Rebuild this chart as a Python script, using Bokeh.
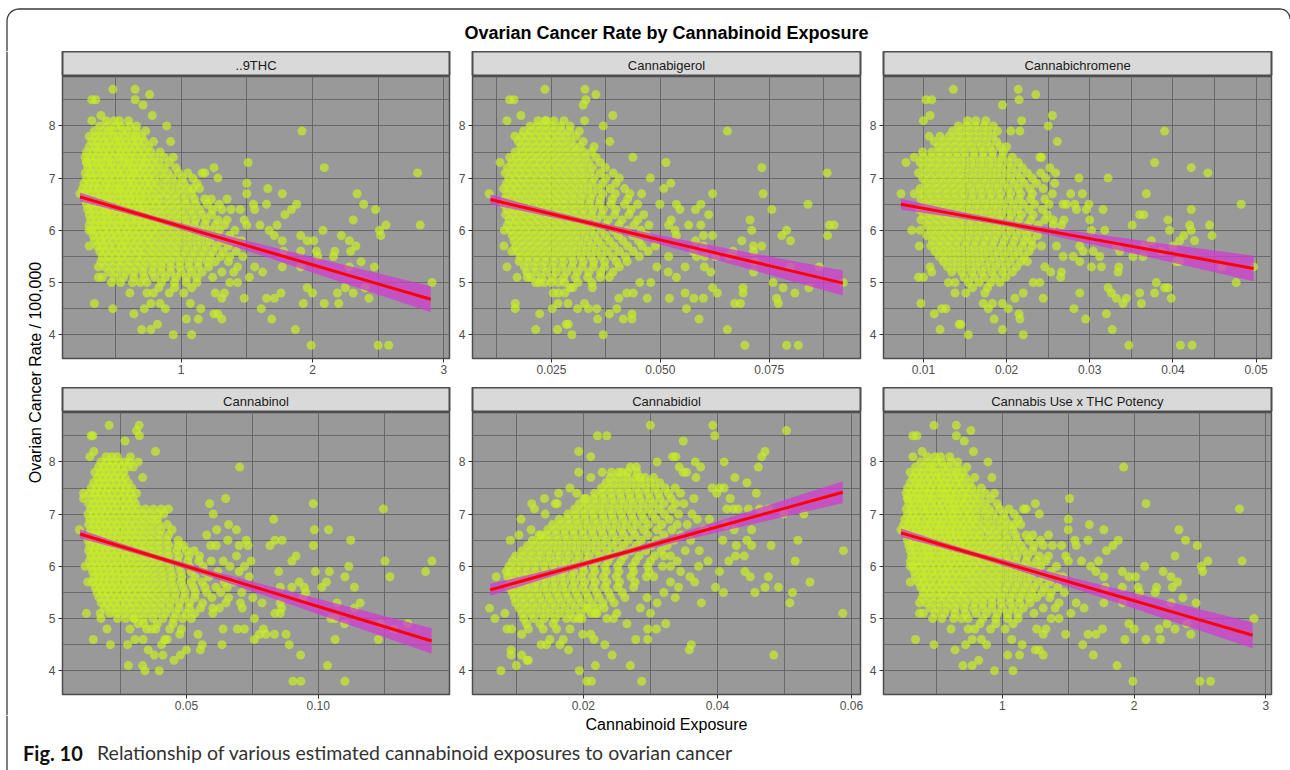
import numpy as np
from bokeh.plotting import figure
from bokeh.layouts import column, row
from bokeh.models import Range1d, FixedTicker, PrintfTickFormatter
from bokeh.core.properties import value
from bokeh.embed import file_html
from bokeh.resources import INLINE

# ------------------------------------------------------------------ data
chart_title = "Ovarian Cancer Rate by Cannabinoid Exposure"
y_title = "Ovarian Cancer Rate / 100,000"
x_title = "Cannabinoid Exposure"
caption_bold = "Fig. 10"
caption_text = "Relationship of various estimated cannabinoid exposures to ovarian cancer"

panel_titles = ["..9THC", "Cannabigerol", "Cannabichromene",
                "Cannabinol", "Cannabidiol", "Cannabis Use x THC Potency"]

rate_ticks = [4, 5, 6, 7, 8]
rate_minor = [4.5, 5.5, 6.5, 7.5, 8.5]

# THC exposure (also used by the Cannabis Use x THC Potency panel)
thc_points = [
    (0.48, 8.7), (0.65, 8.7), (0.65, 8.5), (0.76, 8.6), (0.71, 8.4), (0.32, 8.5), (0.35, 8.5),
    (0.32, 8.1), (0.39, 8.2), (0.78, 8.2), (0.89, 8.0), (0.92, 7.7), (1.92, 7.9), (1.51, 7.3),
    (2.09, 7.2), (2.80, 7.1), (1.25, 7.2), (0.94, 7.4), (1.16, 7.1), (1.18, 7.1), (1.28, 7.0),
    (1.50, 6.9), (1.66, 6.8), (1.77, 6.7), (1.50, 6.7), (2.34, 6.7), (2.39, 6.5), (2.48, 6.4),
    (1.88, 6.5), (1.84, 6.4), (1.79, 6.3), (1.65, 6.5), (1.55, 6.5), (1.56, 6.4), (1.45, 6.4),
    (1.38, 6.4), (1.35, 6.6), (1.29, 6.5), (1.23, 6.6), (1.09, 6.8), (2.31, 6.2), (2.51, 6.0),
    (2.56, 6.1), (2.52, 5.9), (2.82, 6.1), (2.08, 6.0), (2.01, 5.8), (1.96, 5.8), (1.91, 5.9),
    (2.22, 5.9), (2.28, 5.8), (2.33, 5.7), (2.29, 5.6), (2.17, 5.6), (2.16, 5.5), (2.03, 5.6),
    (2.04, 5.5), (1.91, 5.6), (1.77, 5.8), (1.71, 5.9), (1.78, 5.6), (1.67, 6.0), (1.60, 6.1),
    (1.73, 6.1), (1.50, 6.1), (2.37, 5.4), (2.47, 5.3), (2.28, 5.3), (2.91, 5.0), (2.40, 4.9),
    (2.25, 4.9), (2.31, 4.8), (2.43, 4.7), (2.19, 4.8), (1.96, 4.9), (2.00, 4.8), (1.93, 4.6),
    (2.09, 4.6), (2.20, 4.6), (1.76, 4.8), (1.71, 4.7), (1.65, 4.7), (1.61, 4.5), (1.69, 4.3),
    (1.87, 4.1), (1.99, 3.8), (2.50, 3.8), (2.58, 3.8), (1.77, 5.3), (1.91, 5.3), (1.62, 5.2),
    (1.52, 5.1), (1.56, 5.3), (1.48, 4.7), (1.43, 5.0), (1.37, 5.0), (1.40, 5.2), (1.31, 5.2),
    (1.24, 5.1), (1.26, 4.8), (1.33, 4.8), (1.31, 4.7), (1.25, 4.4), (1.28, 4.4), (1.31, 4.3),
    (1.15, 4.5), (1.07, 4.6), (1.13, 4.3), (1.04, 4.3), (1.08, 4.0), (0.94, 4.0), (0.82, 4.2),
    (0.77, 4.1), (0.70, 4.1), (0.64, 4.4), (0.72, 4.5), (0.77, 4.6), (0.84, 4.6), (0.88, 4.5),
    (0.48, 4.5), (0.34, 4.6), (0.61, 4.8), (0.74, 4.8), (0.79, 4.8), (0.91, 4.8), (1.02, 4.8),
    (0.69, 5.0), (0.47, 5.0), (0.37, 5.1), (0.40, 5.1), (0.37, 5.3), (0.30, 5.7), (0.30, 6.0),
    (0.23, 6.7), (0.28, 7.3), (1.36, 5.4), (1.42, 5.6), (1.47, 5.5), (1.46, 5.8), (1.41, 6.0),
    (1.48, 6.2), (1.35, 6.2), (1.43, 5.3),
]
thc_rows = [
    (8.1, [0.43, 0.49, 0.53, 0.60]),
    (8.0, [0.38, 0.44, 0.50, 0.54, 0.61, 0.66]),
    (7.9, [0.34, 0.40, 0.45, 0.48, 0.55, 0.59, 0.66, 0.73]),
    (7.8, [0.30, 0.35, 0.39, 0.44, 0.49, 0.52, 0.57, 0.62, 0.65, 0.70]),
    (7.7, [0.32, 0.36, 0.41, 0.45, 0.50, 0.53, 0.58, 0.63, 0.67, 0.72, 0.79]),
    (7.6, [0.30, 0.35, 0.38, 0.43, 0.47, 0.52, 0.56, 0.60, 0.65, 0.69, 0.75]),
    (7.5, [0.28, 0.33, 0.37, 0.41, 0.45, 0.50, 0.54, 0.58, 0.62, 0.67, 0.72, 0.77, 0.84]),
    (7.4, [0.27, 0.31, 0.35, 0.40, 0.44, 0.48, 0.53, 0.56, 0.61, 0.65, 0.70, 0.74, 0.80, 0.87]),
    (7.3, [0.28, 0.32, 0.36, 0.39, 0.44, 0.47, 0.52, 0.57, 0.60, 0.64, 0.69, 0.73, 0.78, 0.83, 0.91]),
    (7.2, [0.29, 0.33, 0.38, 0.41, 0.46, 0.50, 0.54, 0.59, 0.63, 0.67, 0.71, 0.76, 0.81, 0.87, 0.96]),
    (7.1, [0.27, 0.31, 0.35, 0.40, 0.43, 0.48, 0.52, 0.56, 0.61, 0.64, 0.68, 0.73, 0.78, 0.84, 0.90,
           0.98, 1.05]),
    (7.0, [0.28, 0.32, 0.36, 0.41, 0.45, 0.49, 0.54, 0.58, 0.62, 0.66, 0.71, 0.75, 0.80, 0.87, 0.93,
           1.01, 1.09]),
    (6.9, [0.26, 0.30, 0.34, 0.38, 0.43, 0.47, 0.51, 0.55, 0.60, 0.63, 0.68, 0.73, 0.77, 0.82, 0.89,
           0.96, 1.02, 1.12]),
    (6.8, [0.25, 0.29, 0.33, 0.37, 0.42, 0.45, 0.50, 0.53, 0.57, 0.62, 0.66, 0.70, 0.75, 0.80, 0.86,
           0.92, 0.99, 1.05, 1.14]),
    (6.7, [0.26, 0.30, 0.35, 0.39, 0.43, 0.48, 0.52, 0.56, 0.60, 0.64, 0.69, 0.73, 0.78, 0.84, 0.89,
           0.95, 1.01, 1.08]),
    (6.6, [0.27, 0.31, 0.35, 0.40, 0.44, 0.47, 0.52, 0.57, 0.61, 0.65, 0.69, 0.74, 0.79, 0.83, 0.90,
           0.96, 1.03, 1.10, 1.18]),
    (6.5, [0.28, 0.32, 0.37, 0.41, 0.45, 0.50, 0.54, 0.58, 0.62, 0.67, 0.71, 0.76, 0.81, 0.86, 0.92,
           0.98, 1.04, 1.11, 1.20]),
    (6.4, [0.29, 0.33, 0.38, 0.42, 0.46, 0.51, 0.55, 0.59, 0.64, 0.68, 0.72, 0.77, 0.83, 0.88, 0.94,
           1.00, 1.07, 1.14, 1.24, 1.31]),
    (6.3, [0.30, 0.34, 0.39, 0.43, 0.47, 0.52, 0.56, 0.60, 0.65, 0.69, 0.74, 0.79, 0.84, 0.90, 0.96,
           1.02, 1.09, 1.16, 1.23]),
    (6.2, [0.31, 0.35, 0.40, 0.44, 0.48, 0.53, 0.57, 0.62, 0.66, 0.71, 0.75, 0.81, 0.86, 0.92, 0.98,
           1.04, 1.11, 1.19, 1.28]),
    (6.1, [0.30, 0.35, 0.39, 0.43, 0.48, 0.52, 0.57, 0.61, 0.66, 0.70, 0.75, 0.80, 0.85, 0.91, 0.97,
           1.04, 1.10, 1.18, 1.26, 1.33]),
    (6.0, [0.32, 0.36, 0.41, 0.45, 0.50, 0.54, 0.59, 0.63, 0.68, 0.73, 0.78, 0.83, 0.89, 0.95, 1.01,
           1.08, 1.15, 1.22, 1.29]),
    (5.9, [0.33, 0.38, 0.42, 0.47, 0.51, 0.56, 0.60, 0.65, 0.70, 0.75, 0.80, 0.86, 0.92, 0.98, 1.05,
           1.12, 1.19, 1.27, 1.37]),
    (5.8, [0.34, 0.39, 0.43, 0.48, 0.53, 0.57, 0.62, 0.67, 0.72, 0.77, 0.83, 0.89, 0.95, 1.01, 1.08,
           1.15, 1.22, 1.31, 1.42]),
    (5.7, [0.36, 0.40, 0.45, 0.50, 0.55, 0.59, 0.64, 0.69, 0.75, 0.80, 0.86, 0.92, 0.98, 1.05, 1.12,
           1.19, 1.27, 1.36]),
    (5.6, [0.38, 0.42, 0.47, 0.52, 0.57, 0.62, 0.67, 0.72, 0.78, 0.84, 0.90, 0.96, 1.03, 1.10, 1.17,
           1.24, 1.32]),
    (5.5, [0.40, 0.45, 0.50, 0.55, 0.60, 0.66, 0.71, 0.77, 0.83, 0.89, 0.95, 1.01, 1.08, 1.15, 1.22,
           1.30, 1.37]),
    (5.4, [0.39, 0.45, 0.51, 0.56, 0.62, 0.68, 0.74, 0.80, 0.86, 0.92, 0.99, 1.06, 1.13, 1.20, 1.26]),
    (5.3, [0.42, 0.48, 0.54, 0.60, 0.66, 0.72, 0.79, 0.85, 0.92, 0.99, 1.06, 1.13, 1.21]),
    (5.2, [0.45, 0.51, 0.58, 0.64, 0.71, 0.78, 0.85, 0.92, 1.00, 1.08, 1.16]),
    (5.1, [0.49, 0.56, 0.64, 0.72, 0.80, 0.88, 0.96, 1.04, 1.12]),
    (5.0, [0.54, 0.63, 0.74, 0.85, 0.95, 1.04, 1.12]),
    (4.9, [0.83, 0.95, 1.08]),
]
thc_band_x = [0.23, 0.5, 0.8, 1.2, 1.6, 2.0, 2.4, 2.9]
thc_fit = [6.64, 6.442, 6.222, 5.928, 5.634, 5.341, 5.047, 4.68]
thc_lo = [6.555, 6.382, 6.172, 5.860, 5.528, 5.192, 4.854, 4.430]
thc_hi = [6.725, 6.502, 6.272, 5.996, 5.740, 5.490, 5.240, 4.930]

# Cannabigerol
cbg_points = [
    (0.0235, 8.7), (0.0327, 8.7), (0.0329, 8.5), (0.0323, 8.4), (0.0352, 8.6), (0.0154, 8.5),
    (0.0164, 8.5), (0.0148, 8.1), (0.0180, 8.2), (0.0236, 8.1), (0.0326, 8.1), (0.0391, 8.2),
    (0.0369, 8.0), (0.0384, 7.7), (0.0348, 7.6), (0.0654, 7.9), (0.0513, 7.3), (0.0733, 7.2),
    (0.0883, 7.1), (0.0132, 7.3), (0.0437, 7.4), (0.0477, 7.0), (0.0524, 6.9), (0.0508, 6.8),
    (0.0620, 6.7), (0.0736, 6.7), (0.0839, 6.5), (0.0756, 6.4), (0.0611, 6.3), (0.0593, 6.5),
    (0.0581, 6.4), (0.0537, 6.5), (0.0545, 6.4), (0.0499, 6.5), (0.0457, 6.7), (0.0706, 6.2),
    (0.0710, 6.0), (0.0790, 6.0), (0.0779, 5.9), (0.0799, 5.8), (0.0884, 5.9), (0.0888, 6.1),
    (0.0899, 6.1), (0.0687, 5.8), (0.0714, 5.7), (0.0733, 5.7), (0.0714, 5.6), (0.0717, 5.4),
    (0.0714, 5.2), (0.0667, 5.6), (0.0657, 5.5), (0.0627, 5.5), (0.0620, 5.9), (0.0599, 5.9),
    (0.0565, 6.1), (0.0593, 6.1), (0.0525, 6.2), (0.0519, 6.1), (0.0534, 6.0), (0.0537, 5.9),
    (0.0581, 5.8), (0.0599, 5.7), (0.0576, 5.6), (0.0583, 5.5), (0.0602, 5.5), (0.0557, 5.3),
    (0.0601, 5.3), (0.0616, 5.2), (0.0620, 4.9), (0.0631, 4.8), (0.0690, 4.9), (0.0690, 4.8),
    (0.0759, 5.0), (0.0782, 4.9), (0.0809, 4.8), (0.0841, 4.9), (0.0865, 5.3), (0.0799, 5.3),
    (0.0920, 5.0), (0.0767, 4.7), (0.0771, 4.6), (0.0671, 4.6), (0.0684, 4.6), (0.0654, 4.1),
    (0.0694, 3.8), (0.0790, 3.8), (0.0817, 3.8), (0.0589, 4.3), (0.0560, 4.5), (0.0557, 4.8),
    (0.0577, 4.7), (0.0599, 4.7), (0.0521, 4.7), (0.0518, 5.2), (0.0537, 5.1), (0.0519, 5.5),
    (0.0492, 5.3), (0.0470, 4.7), (0.0478, 5.0), (0.0453, 5.0), (0.0438, 4.8), (0.0423, 4.8),
    (0.0405, 4.7), (0.0435, 4.4), (0.0435, 4.3), (0.0415, 4.3), (0.0400, 4.5), (0.0383, 4.4),
    (0.0369, 4.0), (0.0356, 4.3), (0.0354, 4.5), (0.0335, 4.5), (0.0326, 4.6), (0.0297, 4.0),
    (0.0284, 4.2), (0.0289, 4.2), (0.0264, 4.1), (0.0214, 4.1), (0.0223, 4.4), (0.0252, 4.5),
    (0.0265, 4.6), (0.0288, 4.6), (0.0310, 4.5), (0.0167, 4.6), (0.0167, 4.5), (0.0254, 4.8),
    (0.0266, 4.8), (0.0281, 4.8), (0.0266, 5.0), (0.0293, 4.9), (0.0171, 5.1), (0.0195, 5.1),
    (0.0148, 5.3), (0.0141, 5.7), (0.0142, 6.0), (0.0159, 5.6), (0.0107, 6.7), (0.0214, 5.0),
    (0.0234, 5.0),
]
cbg_rows = [
    (8.1, [0.0219, 0.0238, 0.0256, 0.0279]),
    (8.0, [0.0201, 0.0218, 0.0235, 0.0252, 0.0271, 0.0293]),
    (7.9, [0.0186, 0.0203, 0.0221, 0.0238, 0.0255, 0.0273, 0.0292, 0.0314]),
    (7.8, [0.0166, 0.0181, 0.0197, 0.0214, 0.0231, 0.0248, 0.0266, 0.0284, 0.0306]),
    (7.7, [0.0174, 0.0190, 0.0207, 0.0224, 0.0241, 0.0258, 0.0276, 0.0295, 0.0323]),
    (7.6, [0.0180, 0.0196, 0.0213, 0.0230, 0.0247, 0.0265, 0.0283, 0.0302, 0.0316]),
    (7.5, [0.0167, 0.0183, 0.0199, 0.0216, 0.0233, 0.0250, 0.0268, 0.0286, 0.0305, 0.0324, 0.0342]),
    (7.4, [0.0154, 0.0170, 0.0186, 0.0202, 0.0219, 0.0236, 0.0253, 0.0271, 0.0289, 0.0308, 0.0328,
           0.0352]),
    (7.3, [0.0159, 0.0175, 0.0191, 0.0208, 0.0225, 0.0242, 0.0260, 0.0278, 0.0296, 0.0315, 0.0335,
           0.0362]),
    (7.2, [0.0149, 0.0165, 0.0181, 0.0198, 0.0215, 0.0232, 0.0249, 0.0267, 0.0285, 0.0304, 0.0323,
           0.0344, 0.0374]),
    (7.1, [0.0144, 0.0160, 0.0176, 0.0193, 0.0210, 0.0227, 0.0244, 0.0262, 0.0280, 0.0299, 0.0318,
           0.0338, 0.0362, 0.0392]),
    (7.0, [0.0152, 0.0168, 0.0184, 0.0201, 0.0218, 0.0235, 0.0253, 0.0271, 0.0289, 0.0308, 0.0327,
           0.0348, 0.0375, 0.0406]),
    (6.9, [0.0147, 0.0163, 0.0179, 0.0196, 0.0213, 0.0230, 0.0248, 0.0266, 0.0284, 0.0303, 0.0322,
           0.0343, 0.0368, 0.0398]),
    (6.8, [0.0140, 0.0156, 0.0172, 0.0189, 0.0206, 0.0223, 0.0240, 0.0258, 0.0276, 0.0295, 0.0314,
           0.0334, 0.0357, 0.0385, 0.0418]),
    (6.7, [0.0148, 0.0164, 0.0180, 0.0197, 0.0214, 0.0231, 0.0249, 0.0267, 0.0285, 0.0304, 0.0323,
           0.0344, 0.0368, 0.0397, 0.0430]),
    (6.6, [0.0143, 0.0159, 0.0175, 0.0192, 0.0209, 0.0226, 0.0244, 0.0262, 0.0280, 0.0299, 0.0318,
           0.0339, 0.0362, 0.0390, 0.0425]),
    (6.5, [0.0141, 0.0157, 0.0173, 0.0190, 0.0207, 0.0224, 0.0242, 0.0260, 0.0278, 0.0297, 0.0316,
           0.0337, 0.0360, 0.0387, 0.0418, 0.0448]),
    (6.4, [0.0148, 0.0164, 0.0180, 0.0197, 0.0214, 0.0231, 0.0249, 0.0267, 0.0285, 0.0304, 0.0324,
           0.0345, 0.0369, 0.0398, 0.0433]),
    (6.3, [0.0145, 0.0161, 0.0177, 0.0194, 0.0211, 0.0228, 0.0246, 0.0264, 0.0282, 0.0301, 0.0321,
           0.0342, 0.0366, 0.0395, 0.0428, 0.0462]),
    (6.2, [0.0153, 0.0169, 0.0186, 0.0203, 0.0220, 0.0238, 0.0256, 0.0274, 0.0293, 0.0312, 0.0332,
           0.0354, 0.0380, 0.0412, 0.0448]),
    (6.1, [0.0149, 0.0165, 0.0182, 0.0199, 0.0216, 0.0234, 0.0252, 0.0270, 0.0289, 0.0308, 0.0328,
           0.0350, 0.0375, 0.0405, 0.0440, 0.0474]),
    (6.0, [0.0156, 0.0173, 0.0190, 0.0207, 0.0225, 0.0243, 0.0261, 0.0280, 0.0299, 0.0319, 0.0340,
           0.0364, 0.0392, 0.0424, 0.0456]),
    (5.9, [0.0160, 0.0177, 0.0194, 0.0212, 0.0230, 0.0248, 0.0267, 0.0286, 0.0306, 0.0327, 0.0349,
           0.0374, 0.0403, 0.0436, 0.0469]),
    (5.8, [0.0164, 0.0181, 0.0199, 0.0217, 0.0235, 0.0254, 0.0273, 0.0293, 0.0313, 0.0334, 0.0357,
           0.0383, 0.0414, 0.0450]),
    (5.7, [0.0168, 0.0186, 0.0204, 0.0222, 0.0241, 0.0260, 0.0280, 0.0300, 0.0321, 0.0343, 0.0367,
           0.0394, 0.0425, 0.0458, 0.0489]),
    (5.6, [0.0173, 0.0191, 0.0209, 0.0228, 0.0247, 0.0267, 0.0287, 0.0308, 0.0330, 0.0353, 0.0378,
           0.0406, 0.0438, 0.0472]),
    (5.5, [0.0178, 0.0197, 0.0216, 0.0235, 0.0255, 0.0275, 0.0296, 0.0318, 0.0341, 0.0365, 0.0391,
           0.0420, 0.0452]),
    (5.4, [0.0176, 0.0196, 0.0216, 0.0236, 0.0257, 0.0278, 0.0300, 0.0323, 0.0347, 0.0372, 0.0399,
           0.0424]),
    (5.3, [0.0188, 0.0209, 0.0230, 0.0252, 0.0274, 0.0297, 0.0321, 0.0346, 0.0372, 0.0406]),
    (5.2, [0.0193, 0.0215, 0.0238, 0.0261, 0.0285, 0.0310, 0.0336, 0.0363, 0.0391]),
    (5.1, [0.0203, 0.0227, 0.0252, 0.0278, 0.0305, 0.0333, 0.0362, 0.0383]),
    (5.0, [0.0222, 0.0250, 0.0280, 0.0311, 0.0343]),
    (4.9, [0.0299, 0.0344]),
]
cbg_band_x = [0.011, 0.02, 0.032, 0.045, 0.058, 0.07, 0.082, 0.0919]
cbg_fit = [6.59, 6.412, 6.175, 5.917, 5.66, 5.423, 5.186, 4.99]
cbg_lo = [6.494, 6.343, 6.125, 5.846, 5.547, 5.266, 4.984, 4.75]
cbg_hi = [6.686, 6.481, 6.225, 5.988, 5.773, 5.58, 5.388, 5.23]

# Cannabichromene
cbc_points = [
    (0.0136, 8.7), (0.0214, 8.7), (0.0215, 8.5), (0.0235, 8.6), (0.0195, 8.4), (0.0103, 8.5),
    (0.0110, 8.5), (0.0100, 8.1), (0.0108, 8.2), (0.0218, 8.1), (0.0255, 8.2), (0.0250, 8.0),
    (0.0261, 7.7), (0.0205, 7.9), (0.0216, 7.9), (0.0200, 7.6), (0.0390, 7.9), (0.0378, 7.3),
    (0.0422, 7.2), (0.0442, 7.1), (0.0079, 7.3), (0.0242, 7.4), (0.0322, 7.0), (0.0368, 6.7),
    (0.0287, 7.0), (0.0291, 6.7), (0.0277, 6.7), (0.0482, 6.5), (0.0422, 6.4), (0.0316, 6.4),
    (0.0299, 6.5), (0.0300, 6.2), (0.0272, 6.5), (0.0282, 6.5), (0.0284, 6.4), (0.0296, 6.4),
    (0.0360, 6.3), (0.0365, 6.3), (0.0351, 6.1), (0.0394, 6.2), (0.0396, 6.0), (0.0420, 6.1),
    (0.0422, 6.0), (0.0444, 6.1), (0.0447, 5.9), (0.0426, 5.8), (0.0413, 5.9), (0.0408, 5.8),
    (0.0374, 5.8), (0.0318, 6.0), (0.0302, 6.0), (0.0269, 6.2), (0.0266, 6.1), (0.0256, 6.2),
    (0.0256, 6.1), (0.0288, 5.7), (0.0292, 5.6), (0.0304, 5.6), (0.0312, 5.5), (0.0336, 5.6),
    (0.0332, 5.7), (0.0352, 5.5), (0.0364, 5.5), (0.0366, 5.7), (0.0386, 5.6), (0.0400, 5.7),
    (0.0404, 5.4), (0.0408, 5.4), (0.0459, 5.3), (0.0497, 5.3), (0.0476, 5.0), (0.0380, 5.0),
    (0.0378, 4.8), (0.0360, 4.8), (0.0362, 4.6), (0.0390, 4.9), (0.0394, 4.9), (0.0398, 4.7),
    (0.0344, 4.7), (0.0340, 4.6), (0.0332, 4.7), (0.0326, 4.8), (0.0322, 4.9), (0.0335, 5.3),
    (0.0334, 5.2), (0.0314, 5.3), (0.0302, 5.3), (0.0288, 5.4), (0.0280, 5.5), (0.0268, 5.5),
    (0.0260, 5.7), (0.0266, 5.2), (0.0265, 5.1), (0.0253, 5.2), (0.0246, 5.3), (0.0288, 4.8),
    (0.0281, 4.5), (0.0295, 4.3), (0.0320, 4.4), (0.0327, 4.1), (0.0347, 3.8), (0.0409, 3.8),
    (0.0423, 3.8), (0.0244, 4.7), (0.0232, 5.0), (0.0240, 5.0), (0.0220, 4.8), (0.0210, 4.7),
    (0.0202, 4.5), (0.0195, 4.6), (0.0215, 4.4), (0.0216, 4.3), (0.0220, 4.0), (0.0195, 4.1),
    (0.0185, 4.3), (0.0183, 4.6), (0.0172, 4.6), (0.0178, 4.5), (0.0154, 4.0), (0.0143, 4.2),
    (0.0145, 4.2), (0.0120, 4.1), (0.0113, 4.4), (0.0122, 4.5), (0.0127, 4.5), (0.0097, 4.6),
    (0.0094, 5.1), (0.0100, 5.1), (0.0138, 4.8), (0.0130, 5.0), (0.0138, 5.0), (0.0095, 5.7),
    (0.0086, 6.0), (0.0096, 6.0), (0.0073, 6.7), (0.0108, 5.3), (0.0110, 5.2),
]
cbc_rows = [
    (8.1, [0.0153, 0.0163, 0.0175]),
    (8.0, [0.0142, 0.0152, 0.0162, 0.0173, 0.0184]),
    (7.9, [0.0135, 0.0145, 0.0155, 0.0166, 0.0177, 0.0189]),
    (7.8, [0.0107, 0.0120, 0.0131, 0.0141, 0.0151, 0.0161, 0.0172, 0.0183]),
    (7.7, [0.0113, 0.0124, 0.0134, 0.0144, 0.0154, 0.0165, 0.0176, 0.0188]),
    (7.6, [0.0118, 0.0128, 0.0138, 0.0148, 0.0158, 0.0169, 0.0180, 0.0192]),
    (7.5, [0.0099, 0.0110, 0.0120, 0.0130, 0.0140, 0.0150, 0.0161, 0.0172, 0.0183, 0.0196]),
    (7.4, [0.0089, 0.0100, 0.0110, 0.0120, 0.0130, 0.0140, 0.0150, 0.0161, 0.0172, 0.0183, 0.0195,
           0.0207, 0.0240]),
    (7.3, [0.0096, 0.0106, 0.0116, 0.0126, 0.0136, 0.0146, 0.0157, 0.0168, 0.0179, 0.0190, 0.0202,
           0.0214]),
    (7.2, [0.0100, 0.0110, 0.0120, 0.0130, 0.0140, 0.0150, 0.0161, 0.0172, 0.0183, 0.0194, 0.0206,
           0.0219, 0.0252]),
    (7.1, [0.0094, 0.0104, 0.0114, 0.0124, 0.0134, 0.0144, 0.0155, 0.0166, 0.0177, 0.0188, 0.0200,
           0.0212, 0.0225, 0.0241, 0.0259]),
    (7.0, [0.0099, 0.0109, 0.0119, 0.0129, 0.0139, 0.0149, 0.0160, 0.0171, 0.0182, 0.0193, 0.0205,
           0.0217, 0.0231, 0.0247]),
    (6.9, [0.0103, 0.0113, 0.0123, 0.0133, 0.0143, 0.0153, 0.0164, 0.0175, 0.0186, 0.0197, 0.0209,
           0.0221, 0.0236, 0.0258]),
    (6.8, [0.0096, 0.0106, 0.0116, 0.0126, 0.0136, 0.0146, 0.0157, 0.0168, 0.0179, 0.0190, 0.0202,
           0.0214, 0.0228, 0.0244]),
    (6.7, [0.0089, 0.0099, 0.0109, 0.0119, 0.0129, 0.0139, 0.0149, 0.0160, 0.0171, 0.0182, 0.0193,
           0.0205, 0.0217, 0.0231, 0.0255]),
    (6.6, [0.0097, 0.0107, 0.0117, 0.0127, 0.0137, 0.0147, 0.0158, 0.0169, 0.0180, 0.0191, 0.0203,
           0.0215, 0.0229, 0.0246]),
    (6.5, [0.0102, 0.0112, 0.0122, 0.0132, 0.0142, 0.0152, 0.0163, 0.0174, 0.0185, 0.0196, 0.0208,
           0.0220, 0.0234, 0.0251, 0.0268]),
    (6.4, [0.0095, 0.0105, 0.0115, 0.0125, 0.0135, 0.0145, 0.0156, 0.0167, 0.0178, 0.0189, 0.0201,
           0.0213, 0.0227, 0.0243]),
    (6.3, [0.0100, 0.0110, 0.0120, 0.0130, 0.0140, 0.0150, 0.0161, 0.0172, 0.0183, 0.0194, 0.0206,
           0.0218, 0.0232, 0.0249]),
    (6.2, [0.0097, 0.0107, 0.0117, 0.0127, 0.0137, 0.0147, 0.0158, 0.0169, 0.0180, 0.0191, 0.0203,
           0.0215, 0.0229, 0.0246]),
    (6.1, [0.0104, 0.0114, 0.0124, 0.0134, 0.0144, 0.0155, 0.0166, 0.0177, 0.0188, 0.0200, 0.0212,
           0.0225, 0.0238]),
    (6.0, [0.0109, 0.0119, 0.0129, 0.0139, 0.0149, 0.0160, 0.0171, 0.0182, 0.0193, 0.0205, 0.0217,
           0.0228]),
    (5.9, [0.0104, 0.0114, 0.0124, 0.0134, 0.0144, 0.0155, 0.0166, 0.0177, 0.0188, 0.0200, 0.0212,
           0.0224, 0.0237]),
    (5.8, [0.0111, 0.0121, 0.0131, 0.0141, 0.0152, 0.0163, 0.0174, 0.0185, 0.0197, 0.0209, 0.0221,
           0.0230]),
    (5.7, [0.0109, 0.0119, 0.0129, 0.0139, 0.0150, 0.0161, 0.0172, 0.0183, 0.0195, 0.0207, 0.0219,
           0.0231, 0.0242]),
    (5.6, [0.0114, 0.0124, 0.0134, 0.0145, 0.0156, 0.0167, 0.0178, 0.0190, 0.0202, 0.0214, 0.0227]),
    (5.5, [0.0119, 0.0129, 0.0140, 0.0151, 0.0162, 0.0173, 0.0185, 0.0197, 0.0209, 0.0221]),
    (5.4, [0.0124, 0.0135, 0.0146, 0.0157, 0.0168, 0.0180, 0.0192, 0.0204, 0.0217, 0.0225]),
    (5.3, [0.0129, 0.0140, 0.0151, 0.0163, 0.0175, 0.0187, 0.0199, 0.0212]),
    (5.2, [0.0134, 0.0146, 0.0158, 0.0170, 0.0182, 0.0195, 0.0207]),
    (5.1, [0.0149, 0.0161, 0.0173, 0.0186, 0.0199]),
    (5.0, [0.0154, 0.0167, 0.0181, 0.0192]),
    (4.9, [0.0159, 0.0177]),
    (4.8, [0.0151, 0.0174]),
]
cbc_band_x = [0.0073, 0.013, 0.019, 0.025, 0.031, 0.037, 0.043, 0.0497]
cbc_fit = [6.50, 6.335, 6.161, 5.987, 5.813, 5.639, 5.465, 5.27]
cbc_lo = [6.396, 6.266, 6.111, 5.918, 5.707, 5.49, 5.271, 5.025]
cbc_hi = [6.604, 6.404, 6.211, 6.056, 5.919, 5.788, 5.659, 5.515]

# Cannabinol
cbn_points = [
    (0.0207, 8.7), (0.0321, 8.7), (0.0311, 8.6), (0.0322, 8.5), (0.0139, 8.5), (0.0145, 8.5),
    (0.0134, 8.1), (0.0149, 8.2), (0.0267, 8.4), (0.0383, 8.2), (0.0317, 8.0), (0.0288, 8.1),
    (0.0334, 7.7), (0.0702, 7.9), (0.0649, 7.3), (0.0588, 7.2), (0.0981, 7.2), (0.1247, 7.1),
    (0.0602, 7.0), (0.0831, 6.9), (0.0985, 6.7), (0.1039, 6.7), (0.0660, 6.8), (0.0690, 6.7),
    (0.0836, 6.5), (0.0863, 6.5), (0.0817, 6.4), (0.0982, 6.4), (0.1123, 6.5), (0.0727, 6.5),
    (0.0734, 6.4), (0.0700, 6.4), (0.0657, 6.5), (0.0577, 6.6), (0.0615, 6.7), (0.0592, 6.4),
    (0.0613, 6.4), (0.0916, 6.2), (0.0900, 6.1), (0.1253, 6.1), (0.1431, 6.1), (0.1407, 5.9),
    (0.1272, 5.8), (0.1116, 6.0), (0.1042, 5.9), (0.0989, 5.9), (0.0850, 5.9), (0.1101, 5.8),
    (0.1031, 5.7), (0.1013, 5.6), (0.1137, 5.6), (0.0928, 5.7), (0.0947, 5.6), (0.0900, 5.6),
    (0.0953, 5.5), (0.0856, 5.6), (0.0941, 5.4), (0.1071, 5.3), (0.1159, 5.3), (0.1137, 5.2),
    (0.1048, 5.0), (0.1064, 5.0), (0.1100, 4.9), (0.1237, 4.9), (0.1287, 4.8), (0.1340, 4.9),
    (0.1228, 4.6), (0.1064, 4.6), (0.1035, 4.1), (0.1101, 3.8), (0.0904, 3.8), (0.0934, 3.8),
    (0.0933, 4.3), (0.0890, 4.5), (0.0878, 4.7), (0.0834, 4.7), (0.0802, 4.7), (0.0758, 4.6),
    (0.0777, 4.7), (0.0792, 4.8), (0.0758, 5.0), (0.0720, 4.8), (0.0693, 4.8), (0.0712, 5.2),
    (0.0705, 5.3), (0.0787, 5.3), (0.0836, 5.1), (0.0856, 5.1), (0.0856, 5.3), (0.0861, 5.2),
    (0.0752, 5.4), (0.0639, 4.8), (0.0635, 4.5), (0.0560, 4.5), (0.0553, 4.4), (0.0544, 4.7),
    (0.0519, 5.0), (0.0500, 4.4), (0.0477, 4.3), (0.0453, 4.2), (0.0475, 4.7), (0.0481, 4.8),
    (0.0437, 4.8), (0.0411, 4.3), (0.0378, 4.3), (0.0355, 4.4), (0.0397, 4.0), (0.0343, 4.0),
    (0.0334, 4.1), (0.0280, 4.1), (0.0277, 4.5), (0.0212, 4.5), (0.0147, 4.6), (0.0199, 4.8),
    (0.0286, 4.8), (0.0305, 4.6), (0.0336, 4.6), (0.0349, 4.8), (0.0368, 4.8), (0.0384, 4.8),
    (0.0418, 4.6), (0.0406, 4.5), (0.0427, 4.6), (0.0121, 5.1), (0.0176, 5.0), (0.0173, 5.1),
    (0.0126, 5.7), (0.0116, 6.0), (0.0094, 6.7), (0.0110, 7.3), (0.0110, 7.4), (0.0317, 4.9),
    (0.0302, 5.0), (0.0640, 6.1), (0.0665, 6.0), (0.0700, 5.9), (0.0720, 6.0), (0.0738, 5.8),
    (0.0680, 5.7), (0.0655, 5.6), (0.0710, 5.5), (0.0690, 6.2), (0.0745, 6.1), (0.0660, 5.4),
    (0.0625, 5.2), (0.0600, 5.1), (0.0650, 5.3),
]
cbn_rows = [
    (8.1, [0.0196, 0.0217, 0.0238]),
    (8.0, [0.0176, 0.0198, 0.0220, 0.0243, 0.0266, 0.0285]),
    (7.9, [0.0167, 0.0188, 0.0210, 0.0232, 0.0255, 0.0278, 0.0299]),
    (7.8, [0.0153, 0.0174, 0.0195, 0.0217, 0.0239, 0.0262]),
    (7.7, [0.0162, 0.0183, 0.0204, 0.0226, 0.0249, 0.0268]),
    (7.6, [0.0148, 0.0169, 0.0190, 0.0212, 0.0234, 0.0257, 0.0280]),
    (7.5, [0.0139, 0.0160, 0.0181, 0.0203, 0.0225, 0.0248, 0.0271, 0.0293]),
    (7.4, [0.0133, 0.0154, 0.0175, 0.0197, 0.0219, 0.0242, 0.0265, 0.0288, 0.0311]),
    (7.3, [0.0143, 0.0164, 0.0185, 0.0207, 0.0229, 0.0252, 0.0275, 0.0298]),
    (7.2, [0.0129, 0.0150, 0.0171, 0.0193, 0.0215, 0.0238, 0.0261, 0.0284, 0.0307]),
    (7.1, [0.0137, 0.0158, 0.0179, 0.0201, 0.0223, 0.0246, 0.0269, 0.0293, 0.0318, 0.0345, 0.0375,
           0.0405, 0.0432]),
    (7.0, [0.0127, 0.0148, 0.0169, 0.0191, 0.0213, 0.0236, 0.0259, 0.0283, 0.0308, 0.0334, 0.0362,
           0.0392, 0.0414]),
    (6.9, [0.0134, 0.0155, 0.0176, 0.0198, 0.0220, 0.0243, 0.0266, 0.0290, 0.0315, 0.0341, 0.0369,
           0.0390]),
    (6.8, [0.0129, 0.0150, 0.0171, 0.0193, 0.0215, 0.0238, 0.0261, 0.0285, 0.0310, 0.0336, 0.0364,
           0.0395, 0.0428]),
    (6.7, [0.0137, 0.0158, 0.0179, 0.0201, 0.0223, 0.0246, 0.0269, 0.0293, 0.0318, 0.0344, 0.0372,
           0.0403, 0.0446]),
    (6.6, [0.0132, 0.0153, 0.0174, 0.0196, 0.0218, 0.0241, 0.0264, 0.0288, 0.0313, 0.0339, 0.0367,
           0.0398, 0.0432]),
    (6.5, [0.0127, 0.0148, 0.0169, 0.0191, 0.0213, 0.0236, 0.0259, 0.0283, 0.0308, 0.0334, 0.0362,
           0.0392, 0.0425, 0.0469]),
    (6.4, [0.0134, 0.0155, 0.0176, 0.0198, 0.0220, 0.0243, 0.0266, 0.0290, 0.0315, 0.0341, 0.0369,
           0.0399, 0.0432, 0.0468, 0.0489]),
    (6.3, [0.0129, 0.0150, 0.0171, 0.0193, 0.0215, 0.0238, 0.0261, 0.0285, 0.0310, 0.0336, 0.0364,
           0.0394, 0.0427, 0.0463, 0.0500, 0.0529]),
    (6.2, [0.0137, 0.0158, 0.0179, 0.0201, 0.0223, 0.0246, 0.0269, 0.0293, 0.0318, 0.0344, 0.0372,
           0.0402, 0.0435, 0.0471, 0.0510, 0.0550]),
    (6.1, [0.0132, 0.0153, 0.0174, 0.0196, 0.0218, 0.0241, 0.0264, 0.0288, 0.0313, 0.0339, 0.0367,
           0.0397, 0.0430, 0.0466, 0.0505, 0.0547, 0.0594]),
    (6.0, [0.0139, 0.0160, 0.0181, 0.0203, 0.0225, 0.0248, 0.0271, 0.0295, 0.0320, 0.0346, 0.0374,
           0.0404, 0.0437, 0.0473, 0.0512, 0.0563]),
    (5.9, [0.0144, 0.0165, 0.0186, 0.0208, 0.0230, 0.0253, 0.0276, 0.0300, 0.0325, 0.0351, 0.0379,
           0.0409, 0.0442, 0.0478, 0.0517, 0.0568, 0.0619]),
    (5.8, [0.0149, 0.0170, 0.0191, 0.0213, 0.0235, 0.0258, 0.0281, 0.0305, 0.0330, 0.0356, 0.0384,
           0.0414, 0.0447, 0.0483, 0.0533, 0.0585]),
    (5.7, [0.0145, 0.0166, 0.0187, 0.0209, 0.0231, 0.0254, 0.0277, 0.0301, 0.0326, 0.0352, 0.0380,
           0.0410, 0.0443, 0.0479, 0.0518, 0.0560, 0.0644]),
    (5.6, [0.0154, 0.0175, 0.0196, 0.0218, 0.0240, 0.0263, 0.0286, 0.0310, 0.0335, 0.0361, 0.0389,
           0.0419, 0.0452, 0.0488, 0.0527, 0.0570, 0.0612]),
    (5.5, [0.0161, 0.0182, 0.0203, 0.0225, 0.0247, 0.0270, 0.0293, 0.0317, 0.0342, 0.0368, 0.0396,
           0.0426, 0.0459, 0.0495, 0.0534, 0.0577, 0.0630]),
    (5.4, [0.0169, 0.0191, 0.0213, 0.0236, 0.0259, 0.0283, 0.0308, 0.0334, 0.0361, 0.0390, 0.0421,
           0.0455, 0.0492, 0.0532, 0.0597]),
    (5.3, [0.0177, 0.0200, 0.0223, 0.0247, 0.0271, 0.0296, 0.0322, 0.0349, 0.0377, 0.0407, 0.0439,
           0.0474, 0.0512, 0.0562]),
    (5.2, [0.0189, 0.0213, 0.0237, 0.0262, 0.0288, 0.0315, 0.0343, 0.0372, 0.0403, 0.0436, 0.0472,
           0.0511, 0.0554, 0.0600]),
    (5.1, [0.0209, 0.0236, 0.0264, 0.0293, 0.0323, 0.0354, 0.0387, 0.0422, 0.0460, 0.0500, 0.0532]),
    (5.0, [0.0239, 0.0270, 0.0302, 0.0336, 0.0372, 0.0411, 0.0452, 0.0486]),
    (4.9, [0.0339, 0.0390, 0.0449]),
]
cbn_band_x = [0.0097, 0.025, 0.04, 0.06, 0.08, 0.1, 0.12, 0.143]
cbn_fit = [6.62, 6.385, 6.154, 5.846, 5.539, 5.231, 4.924, 4.57]
cbn_lo = [6.536, 6.328, 6.109, 5.781, 5.435, 5.084, 4.732, 4.325]
cbn_hi = [6.704, 6.442, 6.199, 5.911, 5.643, 5.378, 5.116, 4.815]

# Cannabidiol
cbd_points = [
    (0.0300, 8.7), (0.0393, 8.7), (0.0396, 8.5), (0.0503, 8.6), (0.0221, 8.5), (0.0235, 8.5),
    (0.0349, 8.4), (0.0193, 8.2), (0.0211, 8.1), (0.0471, 8.2), (0.0466, 8.1), (0.0461, 7.9),
    (0.0410, 8.0), (0.0367, 8.0), (0.0310, 8.0), (0.0333, 8.1), (0.0338, 8.1), (0.0193, 7.8),
    (0.0211, 7.7), (0.0228, 7.8), (0.0242, 7.8), (0.0258, 7.8), (0.0270, 7.9), (0.0279, 7.9),
    (0.0284, 7.7), (0.0343, 7.9), (0.0349, 7.8), (0.0354, 7.8), (0.0375, 7.9), (0.0368, 7.7),
    (0.0426, 7.7), (0.0444, 7.6), (0.0458, 7.4), (0.0392, 7.5), (0.0403, 7.5), (0.0410, 7.5),
    (0.0399, 7.4), (0.0419, 7.3), (0.0414, 7.1), (0.0424, 7.1), (0.0431, 7.1), (0.0446, 7.1),
    (0.0463, 7.1), (0.0476, 7.1), (0.0499, 7.0), (0.0529, 7.0), (0.0520, 6.5), (0.0588, 6.3),
    (0.0516, 6.1), (0.0538, 5.7), (0.0512, 5.5), (0.0508, 5.3), (0.0587, 5.1), (0.0491, 5.6),
    (0.0476, 5.8), (0.0471, 5.6), (0.0456, 5.5), (0.0449, 5.8), (0.0441, 5.9), (0.0480, 6.4),
    (0.0451, 6.4), (0.0444, 6.5), (0.0451, 6.7), (0.0440, 6.2), (0.0427, 6.2), (0.0417, 6.1),
    (0.0428, 6.4), (0.0425, 6.7), (0.0413, 6.8), (0.0408, 6.5), (0.0403, 5.9), (0.0397, 5.6),
    (0.0409, 5.5), (0.0386, 6.1), (0.0373, 6.3), (0.0372, 6.0), (0.0359, 5.8), (0.0366, 5.7),
    (0.0376, 5.3), (0.0484, 4.3), (0.0358, 4.4), (0.0361, 4.5), (0.0337, 5.4), (0.0342, 5.6),
    (0.0330, 5.7), (0.0323, 4.9), (0.0309, 4.8), (0.0296, 4.8), (0.0296, 4.6), (0.0278, 4.6),
    (0.0270, 4.1), (0.0287, 3.8), (0.0243, 4.3), (0.0232, 4.5), (0.0218, 4.1), (0.0205, 3.8),
    (0.0212, 3.8), (0.0194, 4.0), (0.0199, 4.7), (0.0211, 4.7), (0.0216, 4.6), (0.0265, 4.9),
    (0.0250, 5.1), (0.0235, 5.0), (0.0245, 5.0), (0.0218, 5.1), (0.0207, 5.2), (0.0193, 5.0),
    (0.0198, 5.0), (0.0180, 4.8), (0.0178, 4.4), (0.0170, 4.6), (0.0165, 4.5), (0.0150, 4.6),
    (0.0137, 4.5), (0.0145, 4.5), (0.0118, 4.2), (0.0116, 4.2), (0.0108, 4.3), (0.0100, 4.1),
    (0.0092, 4.4), (0.0092, 4.3), (0.0077, 4.0), (0.0086, 4.8), (0.0093, 4.8), (0.0108, 4.7),
    (0.0068, 5.0), (0.0060, 5.2), (0.0083, 5.1), (0.0070, 5.8), (0.0085, 5.9), (0.0091, 6.5),
    (0.0104, 6.6), (0.0107, 6.9), (0.0123, 7.2), (0.0127, 7.1), (0.0142, 7.3), (0.0143, 7.0),
    (0.0163, 7.4), (0.0180, 7.5), (0.0190, 7.4), (0.0201, 7.3), (0.0158, 7.2), (0.0161, 7.2),
    (0.0122, 6.7), (0.0137, 6.6), (0.0350, 7.2), (0.0362, 7.0), (0.0355, 6.8), (0.0370, 6.9),
    (0.0345, 6.6), (0.0360, 6.5), (0.0352, 6.3), (0.0340, 6.1), (0.0380, 6.7), (0.0388, 6.9),
    (0.0365, 7.3), (0.0330, 6.0), (0.0345, 5.9), (0.0320, 5.5), (0.0310, 5.3), (0.0300, 5.1),
    (0.0285, 5.2), (0.0295, 5.4), (0.0305, 5.8), (0.0320, 6.2),
]
cbd_rows = [
    (7.8, [0.0253, 0.0266, 0.0280]),
    (7.7, [0.0240, 0.0252, 0.0265, 0.0278, 0.0292, 0.0305]),
    (7.6, [0.0234, 0.0246, 0.0259, 0.0272, 0.0286, 0.0300, 0.0314]),
    (7.5, [0.0227, 0.0239, 0.0252, 0.0265, 0.0279, 0.0293, 0.0307, 0.0322, 0.0337]),
    (7.4, [0.0217, 0.0229, 0.0242, 0.0255, 0.0269, 0.0283, 0.0297, 0.0312, 0.0327, 0.0345]),
    (7.3, [0.0204, 0.0216, 0.0229, 0.0242, 0.0256, 0.0270, 0.0284, 0.0299, 0.0314, 0.0331]),
    (7.2, [0.0194, 0.0206, 0.0219, 0.0232, 0.0246, 0.0260, 0.0274, 0.0289, 0.0304, 0.0320, 0.0338]),
    (7.1, [0.0187, 0.0199, 0.0212, 0.0225, 0.0239, 0.0253, 0.0267, 0.0282, 0.0297, 0.0313, 0.0332]),
    (7.0, [0.0177, 0.0189, 0.0202, 0.0215, 0.0229, 0.0243, 0.0257, 0.0272, 0.0287, 0.0303, 0.0321,
           0.0342]),
    (6.9, [0.0164, 0.0176, 0.0189, 0.0202, 0.0216, 0.0230, 0.0244, 0.0259, 0.0274, 0.0290, 0.0308,
           0.0328]),
    (6.8, [0.0154, 0.0166, 0.0179, 0.0192, 0.0206, 0.0220, 0.0234, 0.0249, 0.0264, 0.0280, 0.0297,
           0.0317, 0.0340]),
    (6.7, [0.0147, 0.0159, 0.0172, 0.0185, 0.0199, 0.0213, 0.0227, 0.0242, 0.0257, 0.0273, 0.0290,
           0.0310, 0.0332]),
    (6.6, [0.0134, 0.0146, 0.0159, 0.0172, 0.0186, 0.0200, 0.0214, 0.0229, 0.0244, 0.0260, 0.0277,
           0.0296, 0.0320]),
    (6.5, [0.0124, 0.0136, 0.0149, 0.0162, 0.0176, 0.0190, 0.0204, 0.0219, 0.0234, 0.0250, 0.0267,
           0.0286, 0.0309, 0.0335]),
    (6.4, [0.0117, 0.0129, 0.0142, 0.0155, 0.0169, 0.0183, 0.0197, 0.0212, 0.0227, 0.0243, 0.0260,
           0.0279, 0.0301, 0.0325]),
    (6.3, [0.0109, 0.0121, 0.0134, 0.0147, 0.0161, 0.0175, 0.0189, 0.0204, 0.0219, 0.0235, 0.0252,
           0.0271, 0.0293, 0.0316]),
    (6.2, [0.0099, 0.0111, 0.0124, 0.0137, 0.0151, 0.0165, 0.0179, 0.0194, 0.0209, 0.0225, 0.0242,
           0.0261, 0.0283, 0.0306, 0.0330]),
    (6.1, [0.0094, 0.0106, 0.0119, 0.0132, 0.0146, 0.0160, 0.0174, 0.0189, 0.0204, 0.0220, 0.0237,
           0.0256, 0.0278, 0.0300]),
    (6.0, [0.0089, 0.0101, 0.0114, 0.0127, 0.0141, 0.0155, 0.0169, 0.0184, 0.0199, 0.0215, 0.0232,
           0.0251, 0.0273, 0.0296, 0.0318]),
    (5.9, [0.0091, 0.0103, 0.0116, 0.0129, 0.0143, 0.0157, 0.0171, 0.0186, 0.0201, 0.0217, 0.0234,
           0.0253, 0.0275, 0.0298]),
    (5.8, [0.0087, 0.0099, 0.0112, 0.0125, 0.0139, 0.0153, 0.0167, 0.0182, 0.0197, 0.0213, 0.0230,
           0.0249, 0.0271, 0.0294]),
    (5.7, [0.0092, 0.0104, 0.0117, 0.0130, 0.0144, 0.0158, 0.0172, 0.0187, 0.0202, 0.0218, 0.0235,
           0.0254, 0.0277]),
    (5.6, [0.0089, 0.0101, 0.0114, 0.0127, 0.0141, 0.0155, 0.0169, 0.0184, 0.0199, 0.0215, 0.0232,
           0.0251, 0.0275]),
    (5.5, [0.0094, 0.0106, 0.0119, 0.0132, 0.0146, 0.0160, 0.0174, 0.0189, 0.0204, 0.0220, 0.0238,
           0.0258]),
    (5.4, [0.0097, 0.0109, 0.0122, 0.0135, 0.0149, 0.0163, 0.0177, 0.0192, 0.0207, 0.0223, 0.0241,
           0.0262]),
    (5.3, [0.0099, 0.0112, 0.0125, 0.0139, 0.0153, 0.0167, 0.0182, 0.0197, 0.0213, 0.0229, 0.0246]),
    (5.2, [0.0104, 0.0117, 0.0130, 0.0144, 0.0158, 0.0173, 0.0188, 0.0204, 0.0220, 0.0231]),
    (5.1, [0.0109, 0.0122, 0.0136, 0.0150, 0.0165, 0.0180, 0.0196, 0.0212, 0.0220]),
    (5.0, [0.0111, 0.0126, 0.0142, 0.0158, 0.0175, 0.0186]),
    (4.9, [0.0115, 0.0135, 0.0155]),
    (4.8, [0.0118, 0.0140, 0.0160]),
]
cbd_band_x = [0.0061, 0.013, 0.02, 0.027, 0.034, 0.041, 0.05, 0.0587]
cbd_fit = [5.55, 5.795, 6.044, 6.293, 6.542, 6.791, 7.111, 7.42]
cbd_lo = [5.435, 5.716, 5.993, 6.245, 6.468, 6.681, 6.951, 7.21]
cbd_hi = [5.665, 5.874, 6.095, 6.341, 6.616, 6.901, 7.271, 7.63]

# THC-potency-weighted use shares the same exposure values as delta-9 THC
potency_points, potency_rows = thc_points, thc_rows
potency_band_x, potency_fit, potency_lo, potency_hi = thc_band_x, thc_fit, thc_lo, thc_hi

# ------------------------------------------------------------------ style
FONT = "Liberation Sans"
PANEL_BG = "#999999"
GRID = "#686868"
EDGE = "#4d4d4d"
POINT = "#c8eb28"
BAND = "#d23cd2"
FIT = "#ff0000"
Y_RANGE = (3.546, 8.946)


def gather(points, rows):
    xs = [pt[0] for pt in points]
    ys = [pt[1] for pt in points]
    for yv, xrow in rows:
        xs.extend(xrow)
        ys.extend([yv] * len(xrow))
    return xs, ys


def blank(width, height):
    c = figure(width=width, height=height, x_range=Range1d(0, width), y_range=Range1d(0, height),
               x_axis_location=None, y_axis_location=None, min_border_left=0, min_border_right=0,
               min_border_top=0, min_border_bottom=0, outline_line_color=None,
               background_fill_color="#ffffff", border_fill_color="#ffffff",
               output_backend="svg", toolbar_location=None)
    c.grid.visible = False
    return c


def strip(label, width, left, right):
    s = figure(width=width, height=25, x_range=Range1d(0, 1), y_range=Range1d(0, 1),
               x_axis_location=None, y_axis_location=None, min_border_left=left,
               min_border_right=right, min_border_top=0, min_border_bottom=0,
               background_fill_color="#d9d9d9", border_fill_color="#ffffff",
               outline_line_color=EDGE, outline_line_width=2,
               output_backend="svg", toolbar_location=None)
    s.grid.visible = False
    s.text(x=[0.5], y=[0.45], text=[label], text_align="center", text_baseline="middle",
           text_font=value(FONT), text_font_size="13px", text_color="#1a1a1a")
    return s


def panel(points, rows, band_x, fit, lo, hi, xr, ticks, minor, fmt, width, left, right, height, bottom):
    xs, ys = gather(points, rows)
    p = figure(width=width, height=height, x_range=Range1d(*xr), y_range=Range1d(*Y_RANGE),
               min_border_left=left, min_border_right=right, min_border_top=0,
               min_border_bottom=bottom, background_fill_color=PANEL_BG,
               border_fill_color="#ffffff", outline_line_color=EDGE, outline_line_width=1.5,
               output_backend="svg", toolbar_location=None)
    xt = FixedTicker(ticks=ticks, minor_ticks=minor)
    yt = FixedTicker(ticks=rate_ticks, minor_ticks=rate_minor)
    p.xaxis.ticker = xt
    p.yaxis.ticker = yt
    p.xgrid.ticker = xt
    p.ygrid.ticker = yt
    p.xaxis.formatter = PrintfTickFormatter(format=fmt)
    p.yaxis.formatter = PrintfTickFormatter(format="%d")
    for ax in (p.xaxis, p.yaxis):
        ax.axis_line_color = None
        ax.major_tick_line_color = "#333333"
        ax.major_tick_out = 4
        ax.major_tick_in = 0
        ax.minor_tick_line_color = None
        ax.major_label_text_font = FONT
        ax.major_label_text_font_size = "12px"
        ax.major_label_text_color = "#4d4d4d"
    p.xaxis.major_label_standoff = 2
    p.yaxis.major_label_standoff = 3
    p.grid.grid_line_color = GRID
    p.grid.grid_line_width = 1
    p.grid.minor_grid_line_color = GRID
    p.grid.minor_grid_line_width = 1

    p.scatter(x=xs, y=ys, size=9, fill_color=POINT, fill_alpha=0.72, line_color=None)
    p.varea(x=band_x, y1=lo, y2=hi, fill_color=BAND, fill_alpha=0.75)
    p.line(x=band_x, y=fit, line_color=FIT, line_width=3)
    return p


# column geometry: (figure width, left border, right border)
cols = [(407, 16, 3), (414, 20, 6), (424, 17, 19)]
row_geom = [(311, 29), (303, 21)]

specs = [
    (thc_points, thc_rows, thc_band_x, thc_fit, thc_lo, thc_hi, (0.097, 3.043), [1, 2, 3], [0.5, 1.5, 2.5], "%d"),
    (cbg_points, cbg_rows, cbg_band_x, cbg_fit, cbg_lo, cbg_hi, (0.00688, 0.09596),
     [0.025, 0.05, 0.075], [0.0125, 0.0375, 0.0625, 0.0875], "%.3f"),
    (cbc_points, cbc_rows, cbc_band_x, cbc_fit, cbc_lo, cbc_hi, (0.0052, 0.05185),
     [0.01, 0.02, 0.03, 0.04, 0.05], [0.015, 0.025, 0.035, 0.045], "%.2f"),
    (cbn_points, cbn_rows, cbn_band_x, cbn_fit, cbn_lo, cbn_hi, (0.00302, 0.14977),
     [0.05, 0.10], [0.025, 0.075, 0.125], "%.2f"),
    (cbd_points, cbd_rows, cbd_band_x, cbd_fit, cbd_lo, cbd_hi, (0.00346, 0.06134),
     [0.02, 0.04, 0.06], [0.01, 0.03, 0.05], "%.2f"),
    (potency_points, potency_rows, potency_band_x, potency_fit, potency_lo, potency_hi,
     (0.097, 3.043), [1, 2, 3], [0.5, 1.5, 2.5], "%d"),
]

grid_rows = []
for r in range(2):
    cells = []
    h, b = row_geom[r]
    for c in range(3):
        i = r * 3 + c
        w, ml, mr = cols[c]
        pts, rws, bx, ft, lo, hi, xr, tk, mn, fmt = specs[i]
        cells.append(column(strip(panel_titles[i], w, ml, mr),
                            panel(pts, rws, bx, ft, lo, hi, xr, tk, mn, fmt, w, ml, mr, h, b),
                            spacing=0))
    grid_rows.append(row(*cells, spacing=0))

# ------------------------------------------------------------------ frame, titles, caption
BORDER = "#3a3a3a"

top = blank(1290, 51)
t = np.linspace(0, np.pi / 2, 14)
bx_path = [6.5] + list(18.5 - 12 * np.cos(t)) + list(1279.5 + 10 * np.sin(t))
by_page = [51] + list(20.5 - 12 * np.sin(t)) + list(18.5 - 10 * np.cos(t))
top.line(x=bx_path, y=[51 - v for v in by_page], line_color=BORDER, line_width=1.3)
top.text(x=[666], y=[51 - 32], text=[chart_title], text_align="center", text_baseline="middle",
         text_font=value(FONT), text_font_size="18px", text_font_style="bold", text_color="#000000")

side = blank(45, 664)
side.line(x=[6.5, 6.5], y=[0, 664], line_color=BORDER, line_width=1.3)
side.text(x=[35], y=[715 - 372], text=[y_title], angle=np.pi / 2, text_align="center",
          text_baseline="middle", text_font=value(FONT), text_font_size="16px", text_color="#000000")

bottom = blank(1290, 55)
bottom.line(x=[6.5, 6.5], y=[0, 55], line_color=BORDER, line_width=1.3)
bottom.text(x=[666], y=[770 - 724], text=[x_title], text_align="center", text_baseline="middle",
            text_font=value(FONT), text_font_size="16px", text_color="#000000")
bottom.text(x=[22.5], y=[770 - 752], text=[caption_bold], text_align="left",
            text_baseline="middle", text_font=value("Lato"), text_font_size="20px",
            text_font_style="bold", text_color="#111111")
bottom.text(x=[96.5], y=[770 - 752], text=[caption_text], text_align="left",
            text_baseline="middle", text_font=value("Lato"), text_font_size="19.5px",
            text_color="#333333")

layout = column(top,
                row(side, column(*grid_rows, spacing=0), spacing=0),
                bottom, spacing=0)

open("out.html", "w").write(file_html(layout, INLINE))
